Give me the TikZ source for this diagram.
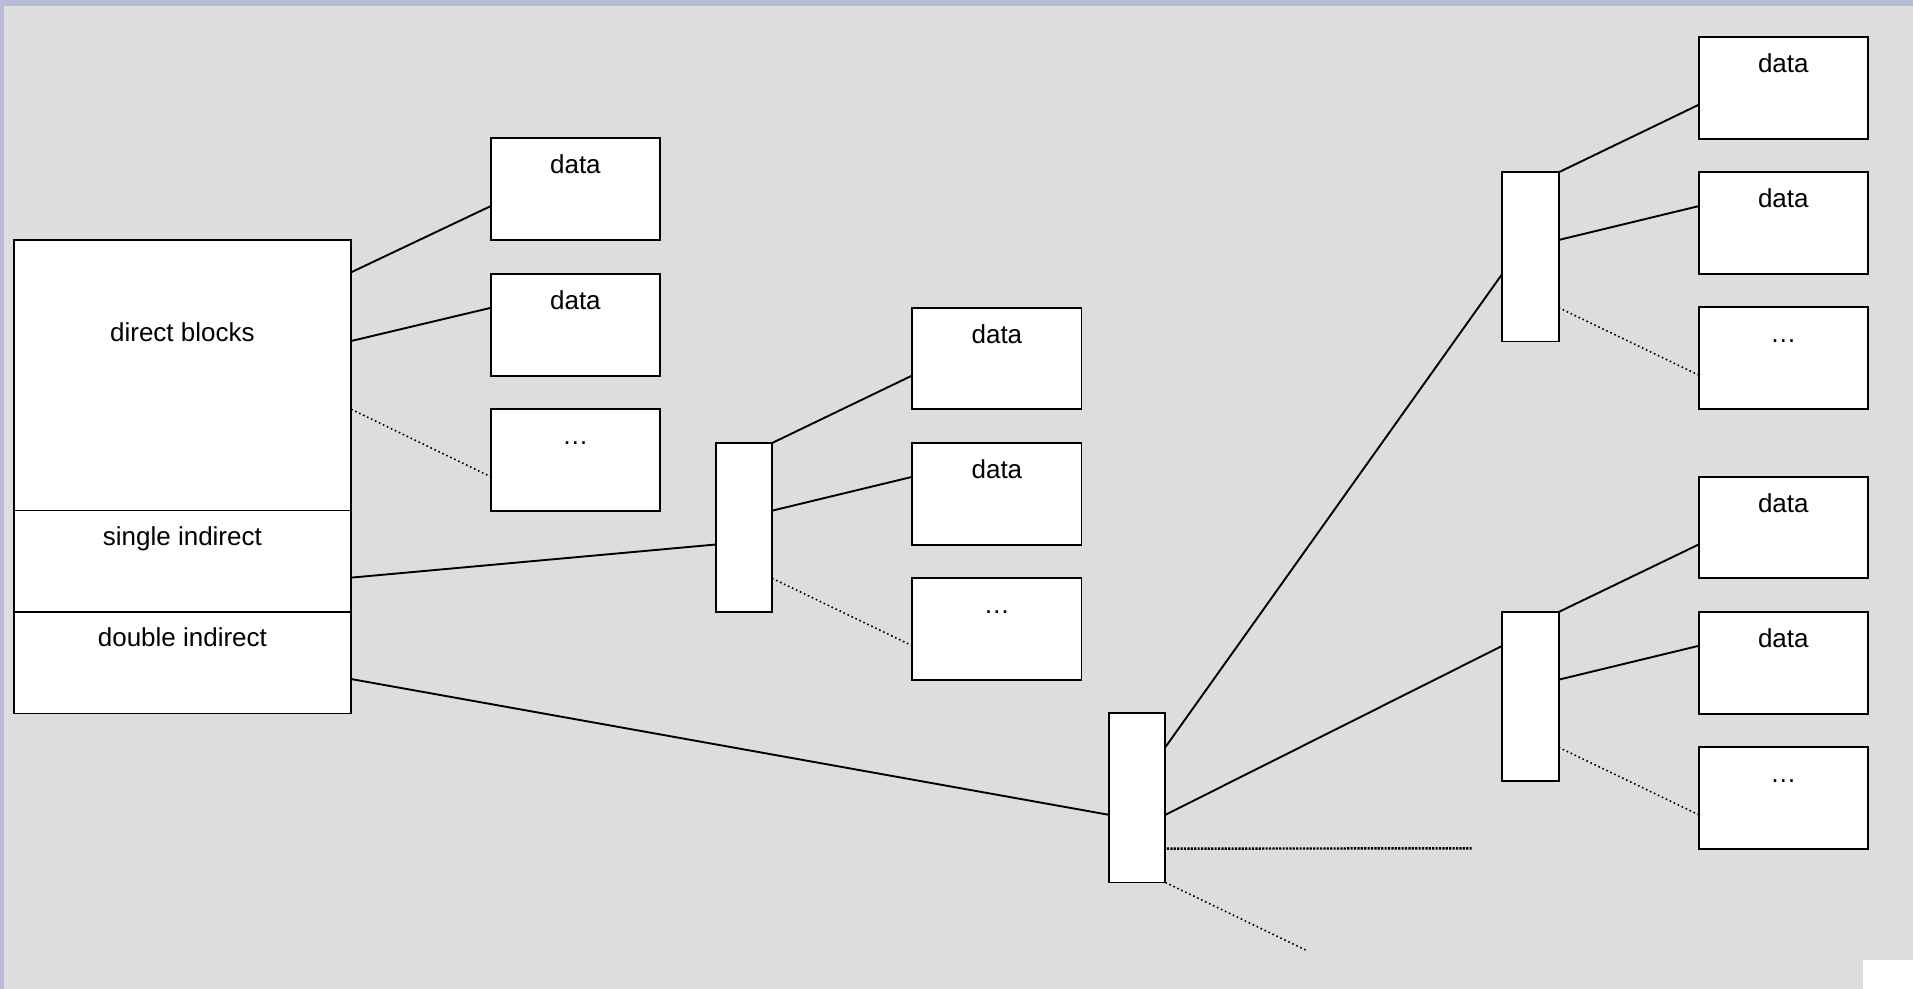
\documentclass[tikz,border=0pt]{standalone}
\usepackage{fontspec}
\setmainfont{Liberation Sans}
\usetikzlibrary{calc}
\definecolor{bggray}{RGB}{221,221,221}
\definecolor{lavband}{RGB}{184,188,216}
\begin{document}
\begin{tikzpicture}[x=0.5pt,y=-0.5pt,
  blk/.style={draw=black, fill=white, line width=0.95pt, inner sep=0pt, outer sep=0pt, anchor=north west},
  datab/.style={blk, minimum width=84.6pt, minimum height=50.8pt},
  ptr/.style={blk, minimum width=28.2pt, minimum height=84.6pt},
  lbl/.style={anchor=base, inner sep=0pt, font=\fontsize{13pt}{15pt}\selectfont},
  link/.style={line width=0.95pt},
  dotlink/.style={line width=0.8pt, dash pattern=on 0.8pt off 1.4pt},
  heavydot/.style={line width=1.2pt, dash pattern=on 1.1pt off 0.6pt}]
\useasboundingbox (0,0) rectangle (1913,989);
% background
\fill[bggray] (0,0) rectangle (1913,989);
\fill[lavband] (0,0) rectangle (1913,6);
\fill[lavband] (0,0) rectangle (4,989);
\fill[white] (1863,960) rectangle (1913,989);

% inode table
\node[blk, minimum width=168.8pt, minimum height=135.1pt] (direct) at (13.6,240.3) {};
\node[blk, minimum width=168.8pt, minimum height=50.85pt] (single) at (13.6,510.5) {};
\node[blk, minimum width=168.8pt, minimum height=50.65pt] (double) at (13.6,612.2) {};
\node[lbl] (tdirect) at ($(direct.north)+(0,101.4)$) {direct blocks};
\node[lbl] (tsingle) at ($(single.north)+(0,35.5)$) {single indirect};
\node[lbl] (tdouble) at ($(double.north)+(0,34.5)$) {double indirect};

% data blocks
\node[datab] (d1) at (490.8,138.3) {};
\node[datab] (d2) at (490.8,274) {};
\node[datab] (d3) at (490.8,409) {};
\node[datab] (d4) at (912.3,307.7) {};
\node[datab] (d5) at (912.3,443) {};
\node[datab] (d6) at (912.3,578) {};
\node[datab] (d7) at (1698.7,37) {};
\node[datab] (d8) at (1698.7,172.3) {};
\node[datab] (d9) at (1698.7,307.3) {};
\node[datab] (d10) at (1698.7,476.7) {};
\node[datab] (d11) at (1698.7,612) {};
\node[datab] (d12) at (1698.7,747) {};

% pointer blocks
\node[ptr] (p1) at (715.7,443) {};
\node[ptr] (p2) at (1109,713.3) {};
\node[ptr] (p3) at (1502.3,172.3) {};
\node[ptr] (p4) at (1502.3,612) {};

% labels
\foreach \n/\t in {d1/data,d2/data,d3/…,d4/data,d5/data,d6/…,d7/data,d8/data,d9/…,d10/data,d11/data,d12/…}
  \node[lbl] (t\n) at ($(\n.north)+(0,35.5)$) {\t};

% free ends
\coordinate (hd) at (1472.7,848.3);
\coordinate (dd) at (1305.7,950);

% direct blocks
\draw[link] ($(direct.north east)+(0,32)$) -- ($(d1.north west)!0.667!(d1.south west)$);
\draw[link] ($(direct.north east)+(0,100.7)$) -- ($(d2.north west)!0.333!(d2.south west)$);
\draw[dotlink] ($(direct.north east)+(0,169)$) -- ($(d3.north west)!0.667!(d3.south west)$);

% single indirect
\draw[link] ($(single.north east)!0.66!(single.south east)$) -- ($(p1.north west)!0.6!(p1.south west)$);
\draw[link] (p1.north east) -- ($(d4.north west)!0.667!(d4.south west)$);
\draw[link] ($(p1.north east)!0.4!(p1.south east)$) -- ($(d5.north west)!0.333!(d5.south west)$);
\draw[dotlink] ($(p1.north east)!0.8!(p1.south east)$) -- ($(d6.north west)!0.667!(d6.south west)$);

% double indirect
\draw[link] ($(double.north east)!0.66!(double.south east)$) -- ($(p2.north west)!0.6!(p2.south west)$);
\draw[link] ($(p2.north east)!0.2!(p2.south east)$) -- ($(p3.north west)!0.6!(p3.south west)$);
\draw[link] ($(p2.north east)!0.6!(p2.south east)$) -- ($(p4.north west)!0.2!(p4.south west)$);
\draw[heavydot] ($(p2.north east)!0.8!(p2.south east)+(1.5,0)$) -- (hd);
\draw[dotlink] (p2.south east) -- (dd);

\draw[link] (p3.north east) -- ($(d7.north west)!0.667!(d7.south west)$);
\draw[link] ($(p3.north east)!0.4!(p3.south east)$) -- ($(d8.north west)!0.333!(d8.south west)$);
\draw[dotlink] ($(p3.north east)!0.8!(p3.south east)$) -- ($(d9.north west)!0.667!(d9.south west)$);

\draw[link] (p4.north east) -- ($(d10.north west)!0.667!(d10.south west)$);
\draw[link] ($(p4.north east)!0.4!(p4.south east)$) -- ($(d11.north west)!0.333!(d11.south west)$);
\draw[dotlink] ($(p4.north east)!0.8!(p4.south east)$) -- ($(d12.north west)!0.667!(d12.south west)$);
\end{tikzpicture}
\end{document}
